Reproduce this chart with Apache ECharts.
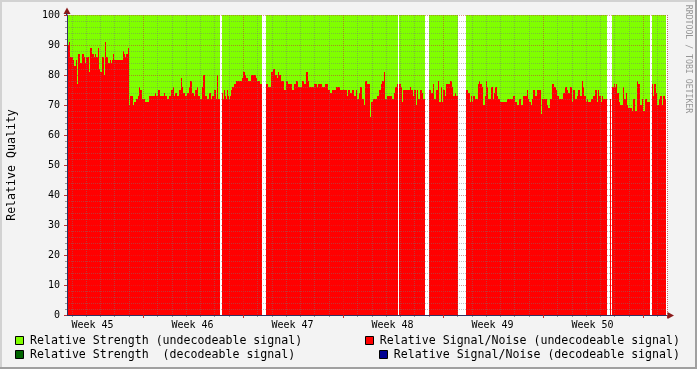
<!DOCTYPE html>
<html><head><meta charset="utf-8">
<script src="https://cdn.jsdelivr.net/npm/echarts@6/dist/echarts.min.js"></script>
<style>html,body{margin:0;padding:0;background:#f3f3f3}#c{width:697px;height:369px}</style>
</head><body><div id="c"></div>
<script>
// ---------- DATA ----------
const weekLabels = ['Week 45', 'Week 46', 'Week 47', 'Week 48', 'Week 49', 'Week 50'];
const weekLabelSlots = [25, 125, 225, 325, 425, 525];   // sample slot at the middle of each week
const yTicks = [0, 10, 20, 30, 40, 50, 60, 70, 80, 90, 100];

// Relative Signal/Noise (undecodeable signal), one value per sample slot (null = no data)
const signalNoise = [
  90,90,91,86,86,86,85,83,83,85,
  77,87,87,84,84,87,87,86,84,86,
  86,86,81,89,89,87,87,86,87,86,
  86,89,82,81,81,86,86,80,91,86,
  86,84,84,85,84,85,87,85,85,85,
  85,85,85,85,85,85,88,87,86,87,
  87,89,70,73,73,73,70,71,71,72,
  72,73,76,75,75,72,72,72,71,71,
  71,71,73,73,73,73,73,73,74,73,
  73,75,75,73,73,73,73,74,73,73,
  72,72,73,73,75,75,76,73,74,74,
  73,73,75,75,79,76,74,74,73,73,
  74,74,76,78,78,74,74,73,75,75,
  76,73,73,72,72,76,80,80,73,73,
  72,72,74,74,72,73,73,75,75,72,
  80,72,72,null,null,74,72,75,73,72,
  75,73,72,73,75,76,76,77,77,78,
  78,78,78,78,78,79,81,81,80,79,
  79,78,78,78,80,80,80,80,80,79,
  78,78,78,77,77,null,null,null,null,77,
  77,76,76,76,81,81,82,82,80,80,
  79,81,80,80,78,78,78,75,75,78,
  78,77,77,77,77,75,75,77,77,78,
  78,76,76,76,76,78,78,77,77,81,
  81,78,76,76,76,76,76,77,77,77,
  76,77,77,77,77,76,76,76,77,77,
  77,75,75,74,74,75,75,75,75,76,
  76,76,76,75,75,75,75,75,75,75,
  73,75,75,74,74,75,75,73,73,75,
  72,72,74,76,76,72,72,70,78,78,
  77,77,77,66,71,71,72,72,72,72,
  73,73,75,75,77,78,78,81,72,72,
  73,73,73,73,73,72,72,74,76,76,
  77,null,77,77,76,71,75,75,75,75,
  75,75,75,76,75,75,73,75,75,70,
  75,72,72,75,75,74,72,72,null,null,
  null,null,75,75,74,74,77,72,72,75,
  75,78,71,71,76,71,75,75,73,77,
  77,77,77,78,78,76,73,73,74,73,
  73,null,null,null,null,null,null,null,null,75,
  75,74,74,71,73,71,73,73,72,72,
  72,77,78,77,77,76,70,70,73,78,
  76,72,72,72,76,76,72,74,76,76,
  73,72,72,71,71,71,71,71,71,71,
  72,72,72,72,72,72,73,73,71,71,
  70,70,72,72,70,70,73,73,73,73,
  75,72,71,71,70,72,75,75,73,73,
  75,75,75,75,67,72,72,72,72,72,
  70,69,69,72,72,77,77,76,76,75,
  73,73,72,72,72,72,74,74,76,76,
  75,74,74,76,76,71,75,75,72,72,
  73,75,75,73,73,78,76,73,73,71,
  72,71,71,71,72,72,73,73,75,75,
  71,75,73,73,71,73,72,72,72,72,
  null,null,null,72,null,76,76,77,76,77,
  74,74,71,70,70,70,76,72,72,74,
  70,69,69,69,69,68,72,72,68,68,
  78,77,77,70,70,72,68,68,72,72,
  71,71,71,null,null,77,73,77,77,74,
  70,70,72,73,73,70,73,73,72,null
];

// Relative Strength (undecodeable signal), one value per sample slot (null = no data)
const strength = [
  100,100,100,100,100,100,100,100,100,100,
  100,100,100,100,100,100,100,100,100,100,
  100,100,100,100,100,100,100,100,100,100,
  100,100,100,100,100,100,100,100,100,100,
  100,100,100,100,100,100,100,100,100,100,
  100,100,100,100,100,100,100,100,100,100,
  100,100,100,100,100,100,100,100,100,100,
  100,100,100,100,100,100,100,100,100,100,
  100,100,100,100,100,100,100,100,100,100,
  100,100,100,100,100,100,100,100,100,100,
  100,100,100,100,100,100,100,100,100,100,
  100,100,100,100,100,100,100,100,100,100,
  100,100,100,100,100,100,100,100,100,100,
  100,100,100,100,100,100,100,100,100,100,
  100,100,100,100,100,100,100,100,100,100,
  100,100,100,null,null,100,100,100,100,100,
  100,100,100,100,100,100,100,100,100,100,
  100,100,100,100,100,100,100,100,100,100,
  100,100,100,100,100,100,100,100,100,100,
  100,100,100,100,100,null,null,null,null,100,
  100,100,100,100,100,100,100,100,100,100,
  100,100,100,100,100,100,100,100,100,100,
  100,100,100,100,100,100,100,100,100,100,
  100,100,100,100,100,100,100,100,100,100,
  100,100,100,100,100,100,100,100,100,100,
  100,100,100,100,100,100,100,100,100,100,
  100,100,100,100,100,100,100,100,100,100,
  100,100,100,100,100,100,100,100,100,100,
  100,100,100,100,100,100,100,100,100,100,
  100,100,100,100,100,100,100,100,100,100,
  100,100,100,100,100,100,100,100,100,100,
  100,100,100,100,100,100,100,100,100,100,
  100,100,100,100,100,100,100,100,100,100,
  100,null,100,100,100,100,100,100,100,100,
  100,100,100,100,100,100,100,100,100,100,
  100,100,100,100,100,100,100,100,null,null,
  null,null,100,100,100,100,100,100,100,100,
  100,100,100,100,100,100,100,100,100,100,
  100,100,100,100,100,100,100,100,100,100,
  100,null,null,null,null,null,null,null,null,100,
  100,100,100,100,100,100,100,100,100,100,
  100,100,100,100,100,100,100,100,100,100,
  100,100,100,100,100,100,100,100,100,100,
  100,100,100,100,100,100,100,100,100,100,
  100,100,100,100,100,100,100,100,100,100,
  100,100,100,100,100,100,100,100,100,100,
  100,100,100,100,100,100,100,100,100,100,
  100,100,100,100,100,100,100,100,100,100,
  100,100,100,100,100,100,100,100,100,100,
  100,100,100,100,100,100,100,100,100,100,
  100,100,100,100,100,100,100,100,100,100,
  100,100,100,100,100,100,100,100,100,100,
  100,100,100,100,100,100,100,100,100,100,
  100,100,100,100,100,100,100,100,100,100,
  null,null,null,null,null,100,100,100,100,100,
  100,100,100,100,100,100,100,100,100,100,
  100,100,100,100,100,100,100,100,100,100,
  100,100,100,100,100,100,100,100,100,100,
  100,100,100,null,null,100,100,100,100,100,
  100,100,100,100,100,100,100,100,100,null
];

const legendNames = [
  'Relative Strength (undecodeable signal)',
  'Relative Signal/Noise (undecodeable signal)',
  'Relative Strength  (decodeable signal)',
  'Relative Signal/Noise (decodeable signal)'
];
const legendColors = ['#80ff00', '#ff0000', '#006400', '#000090'];
const yTitle = 'Relative Quality';
const watermark = 'RRDTOOL / TOBI OETIKER';

// ---------- CHART ----------
const slots = signalNoise.map((_, i) => i);
const labelMap = new Map(weekLabelSlots.map((s, k) => [s, weekLabels[k]]));
const weekSlots = [76, 176, 276, 376, 476, 576];           // week boundaries
const majorSet = new Set(weekSlots);
const minorSet = new Set();
for (let k = -6; k <= 42; k++) {
  const s = Math.round(76 + 100 * k / 7);
  if (s > 0 && s < slots.length && !majorSet.has(s)) minorSet.add(s);
}
const FONT = '"DejaVu Sans Mono", monospace';
const MINOR = 'rgba(120,120,120,0.45)';
const MAJOR = 'rgba(200,50,50,0.55)';
const AXIS = '#303060';

const chart = echarts.init(document.getElementById('c'), null, {renderer: 'canvas'});
const g = [];
// frame shading
g.push({type:'rect', shape:{x:0,y:0,width:697,height:2}, style:{fill:'#d2d2d2'}, silent:true});
g.push({type:'rect', shape:{x:0,y:0,width:2,height:369}, style:{fill:'#d2d2d2'}, silent:true});
g.push({type:'rect', shape:{x:0,y:367,width:697,height:2}, style:{fill:'#a0a0a0'}, silent:true});
g.push({type:'rect', shape:{x:695,y:0,width:2,height:369}, style:{fill:'#a0a0a0'}, silent:true});
// arrows
g.push({type:'polygon', shape:{points:[[67,7.5],[63.5,14],[70.5,14]]}, style:{fill:'#8b1a1a'}, silent:true, z:10});
g.push({type:'line', shape:{x1:66.5,y1:13,x2:66.5,y2:15}, style:{stroke:AXIS,lineWidth:1}, silent:true, z:10});
g.push({type:'polygon', shape:{points:[[674,315.5],[667.5,312],[667.5,319]]}, style:{fill:'#8b1a1a'}, silent:true, z:10});
// y title
g.push({type:'text', x:12, y:165, rotation:Math.PI/2, style:{text:yTitle, font:'11.6px ' + FONT, fill:'#000', align:'center', verticalAlign:'middle'}, silent:true});
// watermark
g.push({type:'text', x:688.5, y:59, rotation:-Math.PI/2, style:{text:watermark, font:'8.2px ' + FONT, fill:'#969696', align:'center', verticalAlign:'middle'}, silent:true});
// legend
const legendPos = [
  {bx:15, by:336, tx:30, ty:341, align:'left'},
  {bx:365, by:336, tx:680, ty:341, align:'right'},
  {bx:15, by:350, tx:30, ty:355, align:'left'},
  {bx:379, by:350, tx:680, ty:355, align:'right'}
];
legendNames.forEach((name, k) => {
  const p = legendPos[k];
  g.push({type:'rect', shape:{x:p.bx+0.5, y:p.by+0.5, width:8, height:8}, style:{fill:legendColors[k], stroke:'#000', lineWidth:1}, silent:true});
  g.push({type:'text', x:p.tx, y:p.ty, style:{text:name, font:'11.6px ' + FONT, fill:'#000', align:p.align, verticalAlign:'middle'}, silent:true});
});

chart.setOption({
  animation: false,
  backgroundColor: '#f3f3f3',
  grid: {left:67, top:15, width:600, height:300, show:true, backgroundColor:'#ffffff', borderWidth:0, containLabel:false},
  xAxis: [
    {
      type:'category', data:slots, boundaryGap:true, z:4,
      axisLine:{show:true, lineStyle:{color:AXIS, width:1}},
      axisTick:{show:true, interval:(i) => majorSet.has(i), length:3, lineStyle:{color:'#c03030'}},
      axisLabel:{show:true, interval:(i) => labelMap.has(i), formatter:(v) => labelMap.get(Number(v)) || '',
                 fontFamily:FONT, fontSize:10, color:'#000', margin:5},
      splitLine:{show:true, interval:(i) => majorSet.has(i), lineStyle:{color:MAJOR, type:[1,1], width:1}}
    },
    {
      type:'category', data:slots, boundaryGap:true, z:3, position:'bottom',
      axisLine:{show:false}, axisLabel:{show:false},
      axisTick:{show:true, interval:(i) => minorSet.has(i), length:2, lineStyle:{color:'#999'}},
      splitLine:{show:true, interval:(i) => minorSet.has(i), lineStyle:{color:MINOR, type:[1,1], width:1}}
    }
  ],
  yAxis: {
    type:'value', min:0, max:100, interval:10, z:4,
    axisLine:{show:true, lineStyle:{color:AXIS, width:1}},
    axisTick:{show:true, length:3, lineStyle:{color:'#c03030'}},
    minorTick:{show:true, splitNumber:5, length:2, lineStyle:{color:'#999'}},
    axisLabel:{fontFamily:FONT, fontSize:10, color:'#000', margin:7,
               formatter:(v) => yTicks.includes(v) ? String(v) : ''},
    splitLine:{show:true, lineStyle:{color:MAJOR, type:[1,1], width:1}},
    minorSplitLine:{show:true, lineStyle:{color:MINOR, type:[1,1], width:1}}
  },
  series: [
    {type:'bar', name:legendNames[0], data:strength, xAxisIndex:0, barWidth:'100%', barGap:'-100%',
     itemStyle:{color:legendColors[0]}, z:1, silent:true},
    {type:'bar', name:legendNames[1], data:signalNoise, xAxisIndex:0, barWidth:'100%', barGap:'-100%',
     itemStyle:{color:legendColors[1]}, z:2, silent:true}
  ],
  graphic: g
});
</script></body></html>
